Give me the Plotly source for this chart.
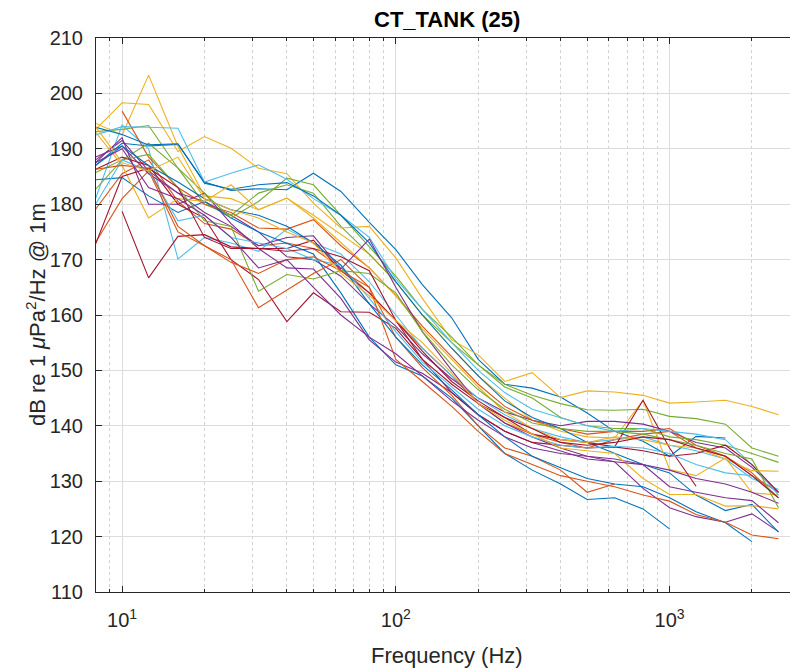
import math
import plotly.graph_objects as go

# ---------------- data ----------------
freq_hz = [8, 10, 12.5, 16, 20, 25, 31.5, 40, 50, 63, 80, 100, 125, 160, 200,
           250, 315, 400, 500, 630, 800, 1000, 1250, 1600, 2000, 2500]

spl_01 = [187.0, 191.0, 190.5, 190.8, 184.0, 182.5, 182.8, 182.6, 185.6, 182.3, 176.7, 171.8, 165.5, 159.5, 152.0, 147.5, 146.8, 145.2, 142.3, 139.0, 137.2, 134.5, 138.1, 137.8, None, None]
spl_02 = [179.1, 185.5, 188.0, 180.5, 176.5, 175.5, 172.5, 173.0, 172.0, 168.5, 164.0, 159.0, 154.0, 149.0, 144.0, 140.5, 138.5, 137.0, 136.0, 137.5, 138.5, 139.0, 136.0, 134.5, 131.0, 128.0]
spl_03 = [194.6, 192.5, 203.3, 190.4, 181.5, 181.0, 179.0, 181.1, 178.0, 174.5, 171.0, 166.0, 160.0, 154.0, 149.0, 145.0, 141.0, 139.0, 138.0, 137.8, 144.6, 132.1, 131.0, 134.2, 127.9, 127.5]
spl_04 = [188.0, 191.5, 186.0, 182.0, 180.5, 178.0, 175.0, 170.5, 170.0, 167.0, 162.0, 158.0, 153.0, 148.5, 145.0, 142.5, 141.0, 140.0, 140.8, 140.8, 140.3, 139.0, 137.0, 136.0, 132.5, 128.0]
spl_05 = [193.1, 193.5, 194.2, 186.5, 180.0, 178.0, 182.0, 183.5, 182.0, 176.0, 171.0, 166.0, 160.0, 155.0, 151.0, 147.5, 145.5, 144.0, 142.9, 142.8, 143.0, 141.7, 141.3, 140.3, 136.0, 134.5]
spl_06 = [181.0, 194.3, 190.0, 170.1, 174.0, 173.0, 171.5, 175.5, 173.0, 171.0, 166.0, 160.0, 154.0, 149.0, 145.0, 142.0, 139.5, 138.0, 137.0, 137.5, 138.0, 136.5, 135.5, 134.0, 130.5, 128.5]
spl_07 = [None, 178.7, 166.7, 174.2, 174.5, 172.3, 172.0, 172.0, 173.5, 168.0, 164.0, 159.0, 153.5, 148.0, 144.5, 141.5, 138.5, 137.5, 137.0, 136.2, 144.6, 136.0, 129.1, None, None, None]
spl_08 = [184.4, 184.8, 181.5, 178.5, 180.5, 177.5, 175.0, 173.0, 171.0, 164.0, 156.0, 151.0, 149.0, 145.0, 140.0, 135.0, 132.0, 129.5, 126.7, 127.0, 125.0, 121.4, None, None, None, None]
spl_09 = [None, 196.8, 188.5, 183.0, 180.0, 178.5, 175.7, 175.5, 177.2, 172.5, 168.5, 163.5, 158.0, 152.5, 147.5, 143.5, 141.0, 139.5, 138.5, 139.0, 139.0, 139.5, 136.5, 134.5, 131.5, 127.0]
spl_10 = [193.5, 198.3, 198.0, 189.5, 192.2, 190.1, 186.5, 185.5, 180.2, 175.7, 176.0, 170.3, 163.0, 155.5, 152.8, 148.0, 149.6, 145.1, 146.3, 146.1, 145.5, 144.1, 144.3, 144.6, 143.5, 142.0]
spl_11 = [187.5, 192.0, 180.0, 180.0, 182.0, 176.5, 172.0, 168.5, 168.3, 163.0, 155.5, 151.5, 149.5, 146.0, 142.0, 139.0, 137.0, 135.5, 134.0, 133.5, 128.7, 125.2, 123.6, 122.6, 124.1, 120.9]
spl_12 = [185.7, 188.0, 191.0, 186.5, 182.0, 177.5, 180.5, 184.7, 183.5, 178.0, 172.5, 167.0, 161.0, 156.0, 151.0, 147.0, 145.0, 141.5, 140.0, 139.5, 139.5, 138.0, 137.5, 136.5, 135.0, 133.4]
spl_13 = [192.5, 194.0, 193.9, 193.7, 184.0, 185.6, 187.1, 184.5, 181.0, 178.0, 174.0, 166.5, 161.0, 155.0, 150.0, 146.0, 143.0, 141.5, 140.0, 139.0, 139.5, 139.0, 138.5, 137.5, 133.0, 127.5]
spl_14 = [186.3, 188.5, 187.0, 180.0, 177.5, 170.0, 166.4, 158.8, 164.0, 160.6, 160.5, 157.6, 152.0, 146.0, 142.0, 139.0, 137.0, 136.5, 136.0, 136.2, 135.5, 134.5, 135.0, 136.5, 133.0, 128.0]
spl_15 = [193.9, 192.6, 190.7, 190.9, 183.8, 182.7, 183.5, 183.9, 181.5, 178.0, 173.0, 166.0, 160.0, 154.0, 149.0, 144.5, 141.5, 139.5, 137.0, 135.0, 133.0, 131.5, 127.5, 124.7, 125.8, 120.8]
spl_16 = [173.1, 181.0, 186.0, 175.0, 172.5, 170.0, 161.3, 164.5, 167.5, 170.0, 165.0, 156.0, 150.5, 145.5, 140.0, 136.0, 134.5, 132.0, 128.0, 129.5, None, None, None, None, None, None]
spl_17 = [193.0, 187.0, 177.5, 181.0, 180.5, 183.5, 179.0, 181.1, 177.5, 173.0, 168.5, 163.5, 157.5, 152.0, 147.0, 142.5, 139.5, 137.5, 137.0, 138.0, 137.5, 136.5, 136.0, 134.0, 131.9, 131.8]
spl_18 = [188.5, 190.5, 185.5, 182.0, 178.5, 176.0, 172.5, 174.0, 174.3, 168.3, 173.7, 165.0, 157.0, 150.0, 144.0, 140.5, 138.0, 136.0, 134.5, 134.0, 133.0, 132.0, 130.5, 129.5, 128.0, 126.0]
spl_19 = [182.7, 188.0, 189.0, 183.0, 177.0, 176.0, 164.3, 167.3, 166.5, 168.0, 167.5, 164.0, 157.0, 151.0, 146.5, 143.0, 140.5, 139.5, 139.0, 139.0, 138.5, 137.5, 136.5, 135.0, 134.0, 125.2]
spl_20 = [180.0, 188.0, 186.0, 177.0, 178.0, 174.0, 173.0, 172.0, 170.0, 169.0, 163.0, 157.0, 151.5, 147.0, 143.0, 140.0, 138.0, 136.5, 136.0, 136.3, 136.0, 135.0, 133.0, 131.5, 131.0, 127.0]
spl_21 = [172.8, 185.0, 186.5, 183.0, 174.0, 172.0, 172.0, 171.5, 172.0, 170.5, 168.0, 159.0, 152.0, 147.5, 144.0, 141.5, 139.5, 137.0, 136.5, 137.0, 138.0, 137.5, 136.0, 134.5, 131.0, 127.0]
spl_22 = [187.0, 190.5, 187.0, 184.0, 181.0, 179.0, 178.0, 176.0, 173.0, 169.0, 162.0, 156.0, 151.0, 146.5, 142.0, 138.0, 134.5, 132.5, 130.5, 129.5, 129.0, 127.0, 124.5, 122.5, 119.1, None]
spl_23 = [186.3, 187.0, 186.5, 176.0, 172.5, 169.5, 167.5, 170.0, 170.5, 168.0, 165.0, 152.0, 148.0, 143.5, 139.0, 135.0, 133.0, 131.0, 130.0, 129.0, 127.5, 126.4, 124.0, 122.6, 120.3, 119.6]
spl_24 = [194.0, 187.5, 186.0, 188.5, 181.0, 179.0, 177.5, 175.0, 173.0, 167.5, 163.5, 159.0, 155.0, 149.5, 144.0, 141.0, 138.5, 136.0, 135.5, 135.0, 130.5, 127.6, 127.6, 125.5, 125.6, 125.0]
spl_25 = [187.5, 190.0, 183.0, 181.0, 178.0, 174.0, 168.5, 170.0, 165.0, 160.0, 156.0, 153.0, 149.0, 144.5, 141.0, 138.0, 136.0, 135.0, 134.5, 133.5, 133.0, 129.0, 128.0, 127.0, 126.5, 122.5]

series = [spl_01, spl_02, spl_03, spl_04, spl_05, spl_06, spl_07, spl_08, spl_09,
          spl_10, spl_11, spl_12, spl_13, spl_14, spl_15, spl_16, spl_17, spl_18,
          spl_19, spl_20, spl_21, spl_22, spl_23, spl_24, spl_25]

major_ticks = [10, 100, 1000]
major_text = ["10<sup>1</sup>", "10<sup>2</sup>", "10<sup>3</sup>"]
minor_ticks = [8, 9, 20, 30, 40, 50, 60, 70, 80, 90, 200, 300, 400, 500, 600,
               700, 800, 900, 2000, 3000]
y_ticks = list(range(110, 211, 10))

title_text = "CT_TANK (25)"
x_label = "Frequency (Hz)"
y_label = "dB re 1 <i>μ</i>Pa<sup>2</sup>/Hz @ 1m"

# ---------------- style ----------------
matlab_colors = ["#0072BD", "#D95319", "#EDB120", "#7E2F8E", "#77AC30", "#4DBEEE", "#A2142F"]
FONT = "Liberation Sans, Arial, Helvetica, sans-serif"
AX = "#262626"
W, H = 790, 671
L, R, T, B = 96, 0, 38, 79
x_range = [math.log10(8.03), 3.44]

fig = go.Figure()
for i, s in enumerate(series):
    fig.add_trace(go.Scatter(
        x=freq_hz, y=s, mode="lines", showlegend=False, hoverinfo="skip",
        line=dict(color=matlab_colors[i % 7], width=1.1),
        connectgaps=False))

fig.update_layout(
    width=W, height=H,
    margin=dict(l=L, r=R, t=T, b=B, pad=0),
    paper_bgcolor="white", plot_bgcolor="white",
    font=dict(family=FONT, size=20, color=AX),
    xaxis=dict(
        type="log", range=x_range,
        tickmode="array", tickvals=major_ticks, ticktext=major_text,
        ticks="inside", ticklen=6, tickcolor=AX, tickwidth=1,
        showgrid=True, gridcolor="#dcdcdc", gridwidth=1,
        minor=dict(tickmode="array", tickvals=minor_ticks,
                   ticks="inside", ticklen=3, tickcolor=AX, tickwidth=1,
                   showgrid=True, gridcolor="#d2d2d2", griddash="dot", gridwidth=1),
        showline=True, linecolor=AX, linewidth=1, mirror="allticks",
        tickfont=dict(family=FONT, size=20, color=AX),
        ticklabelstandoff=10,
        zeroline=False, fixedrange=True,
    ),
    yaxis=dict(
        range=[110, 210], tickmode="array", tickvals=y_ticks,
        ticks="inside", ticklen=6, tickcolor=AX, tickwidth=1,
        showgrid=True, gridcolor="#dcdcdc", gridwidth=1,
        showline=True, linecolor=AX, linewidth=1,
        tickfont=dict(family=FONT, size=20, color=AX),
        ticklabelstandoff=8,
        zeroline=False, fixedrange=True,
    ),
)

pw = W - L - R
ph = H - T - B
cx = (447.5 - L) / pw

fig.add_annotation(text="<b>" + title_text + "</b>", xref="paper", yref="paper",
                   x=cx, y=(H - B - 20) / ph, xanchor="center", yanchor="middle",
                   showarrow=False, font=dict(family=FONT, size=22, color="#000000"))
fig.add_annotation(text=x_label, xref="paper", yref="paper",
                   x=cx, y=(H - B - 655) / ph, xanchor="center", yanchor="middle",
                   showarrow=False, font=dict(family=FONT, size=22, color=AX))
fig.add_annotation(text=y_label, xref="paper", yref="paper",
                   x=(36 - L) / pw, y=0.5, xanchor="center", yanchor="middle",
                   textangle=-90, showarrow=False,
                   font=dict(family=FONT, size=22, color=AX))

fig.write_html("out.html")
